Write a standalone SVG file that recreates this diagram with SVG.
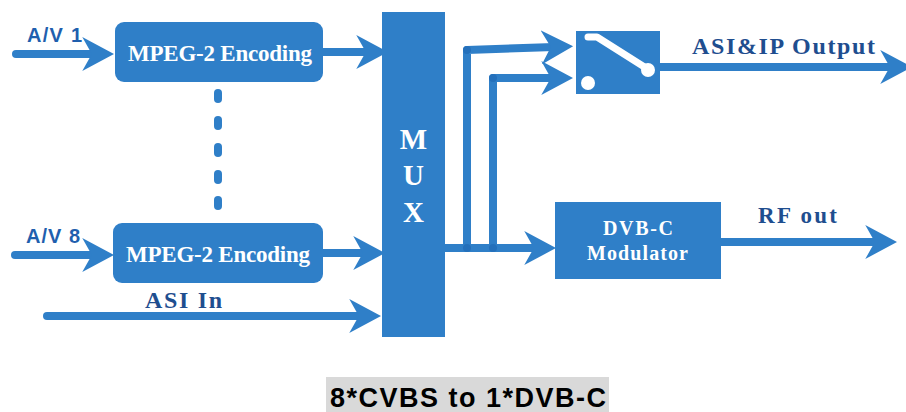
<svg xmlns="http://www.w3.org/2000/svg" width="906" height="412" viewBox="0 0 906 412">
<style>
.box{fill:#2f7fc8}
.ln{fill:none;stroke:#2f7fc8;stroke-width:8;stroke-linecap:round;stroke-linejoin:round}
.wt{font-family:"Liberation Serif","Times New Roman",serif;font-weight:bold;fill:#ffffff}
.lb{font-family:"Liberation Serif","Times New Roman",serif;font-weight:bold;fill:#1f4e8f}
.av{font-family:"Liberation Sans",Arial,sans-serif;font-weight:bold;fill:#1f5fae;font-size:20px}
.dot{fill:#2f7fc8}
.jn{fill:#2470bb}
</style>
<defs>
<marker id="ah" markerUnits="userSpaceOnUse" markerWidth="32" markerHeight="34" viewBox="0 0 30 32" refX="12" refY="16" orient="auto">
<path d="M0,0 L30,16 L0,32 L9,16 Z" fill="#2f7fc8"/>
</marker>
</defs>
<rect width="906" height="412" fill="#ffffff"/>

<g id="connectors">
<path class="ln" d="M16,54 L95,54" marker-end="url(#ah)"/>
<path class="ln" d="M323,52 L369,52" marker-end="url(#ah)"/>
<path class="ln" d="M15,255 L95,255" marker-end="url(#ah)"/>
<path class="ln" d="M323,253 L366,253" marker-end="url(#ah)"/>
<path class="ln" d="M47,316 L362,316" marker-end="url(#ah)"/>
<path class="ln" d="M445,248 L537,248" marker-end="url(#ah)"/>
<path class="ln" d="M467,248 L467,50 L554,47" marker-end="url(#ah)"/>
<path class="ln" d="M493,248 L493,78 L554,78" marker-end="url(#ah)"/>
<path class="ln" d="M660,67 L893,67" marker-end="url(#ah)"/>
<path class="ln" d="M721,242 L878,242" marker-end="url(#ah)"/>
<circle class="jn" cx="467" cy="248" r="4"/>
<circle class="jn" cx="493" cy="248" r="4"/>
<circle class="jn" cx="467" cy="50" r="4"/>
<circle class="jn" cx="493" cy="78" r="4"/>
</g>

<g id="label-av1"><text class="av" x="27" y="42" textLength="55">A/V 1</text></g>
<g id="label-av8"><text class="av" x="26" y="243" textLength="54">A/V 8</text></g>
<g id="label-asiin"><text class="lb" x="145" y="308" font-size="24" textLength="77">ASI In</text></g>
<g id="label-asiip"><text class="lb" x="692" y="54" font-size="24" textLength="183">ASI&amp;IP Output</text></g>
<g id="label-rfout"><text class="lb" x="758" y="223" font-size="23" textLength="79">RF out</text></g>

<g id="enc1">
<rect class="box" x="115" y="22" width="208" height="60" rx="9"/>
<text class="wt" x="128" y="61" font-size="23" textLength="184">MPEG-2 Encoding</text>
</g>

<g id="dots">
<rect class="dot" x="214" y="89" width="8" height="14" rx="4"/>
<rect class="dot" x="214" y="116" width="8" height="14" rx="4"/>
<rect class="dot" x="214" y="143" width="8" height="14" rx="4"/>
<rect class="dot" x="214" y="170" width="8" height="14" rx="4"/>
<rect class="dot" x="214" y="196" width="8" height="14" rx="4"/>
</g>

<g id="enc8">
<rect class="box" x="113" y="223" width="210" height="60" rx="9"/>
<text class="wt" x="126" y="262" font-size="23" textLength="184">MPEG-2 Encoding</text>
</g>

<g id="mux">
<rect class="box" x="382" y="12" width="63" height="325"/>
<text class="wt" x="413.5" y="149" font-size="29" text-anchor="middle">M</text>
<text class="wt" x="413.5" y="185" font-size="29" text-anchor="middle">U</text>
<text class="wt" x="413.5" y="222" font-size="29" text-anchor="middle">X</text>
</g>

<g id="switch">
<rect class="box" x="576" y="31" width="84" height="63"/>
<path d="M588,37 L597,37 L646,68" fill="none" stroke="#ffffff" stroke-width="7" stroke-linecap="round" stroke-linejoin="round"/>
<circle cx="648" cy="70" r="7" fill="#ffffff"/>
<circle cx="588" cy="83" r="7" fill="#ffffff"/>
</g>

<g id="modulator">
<rect class="box" x="555" y="202" width="166" height="77"/>
<text class="wt" x="603" y="235" font-size="20" textLength="70">DVB-C</text>
<text class="wt" x="587" y="260" font-size="20" textLength="101">Modulator</text>
</g>

<g id="title">
<rect x="326" y="377" width="283" height="35" fill="#d9d9d9"/>
<text x="330" y="407" font-family="'Liberation Sans',Arial,sans-serif" font-weight="bold" font-size="27" fill="#000000" textLength="276">8*CVBS to 1*DVB-C</text>
</g>
</svg>
